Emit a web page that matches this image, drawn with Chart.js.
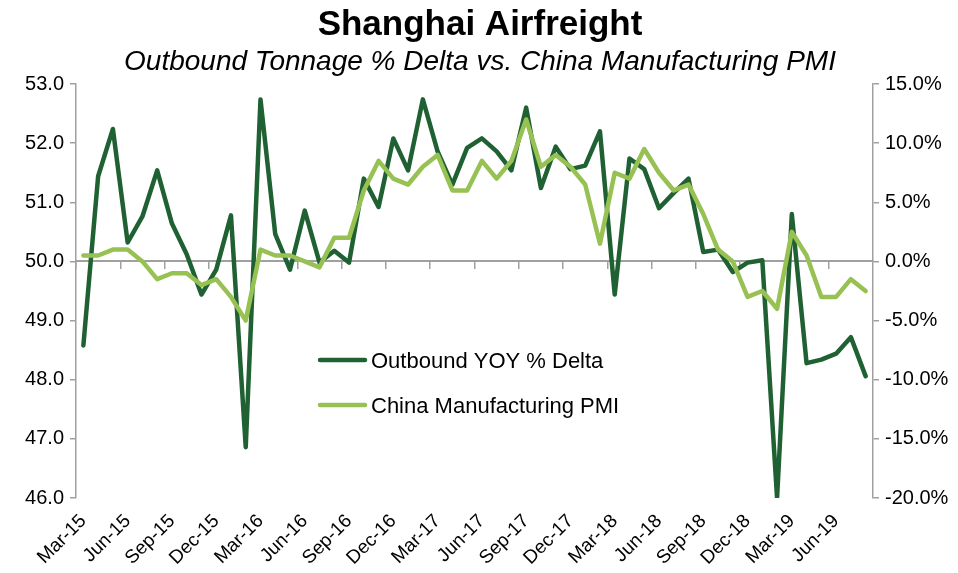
<!DOCTYPE html>
<html>
<head>
<meta charset="utf-8">
<script src="https://cdn.jsdelivr.net/npm/chart.js@4.4.1/dist/chart.umd.min.js"></script>
<style>
html,body{margin:0;padding:0;background:#fff}
#wrap{width:958px;height:573px;position:relative}
</style>
</head>
<body>
<div id="wrap"><canvas id="c"></canvas></div>
<script>
/* Shanghai Airfreight - outbound tonnage vs PMI */
const months=['Mar-15','Apr-15','May-15','Jun-15','Jul-15','Aug-15','Sep-15','Oct-15','Nov-15','Dec-15',
 'Jan-16','Feb-16','Mar-16','Apr-16','May-16','Jun-16','Jul-16','Aug-16','Sep-16','Oct-16','Nov-16','Dec-16',
 'Jan-17','Feb-17','Mar-17','Apr-17','May-17','Jun-17','Jul-17','Aug-17','Sep-17','Oct-17','Nov-17','Dec-17',
 'Jan-18','Feb-18','Mar-18','Apr-18','May-18','Jun-18','Jul-18','Aug-18','Sep-18','Oct-18','Nov-18','Dec-18',
 'Jan-19','Feb-19','Mar-19','Apr-19','May-19','Jun-19','Jul-19','Aug-19'];
// outbound YOY % delta (right axis)
const outbound=[-7.1,7.2,11.2,1.6,3.8,7.7,3.2,0.6,-2.8,-0.7,
 3.9,-15.7,13.7,2.3,-0.7,4.3,-0.1,0.9,-0.1,7.0,4.6,10.4,
 7.7,13.7,9.3,6.5,9.6,10.4,9.3,7.7,13.0,6.2,9.7,7.8,
 8.1,11.0,-2.8,8.7,7.8,4.5,5.8,7.0,0.8,1.0,-0.9,-0.1,
 0.1,-20.0,4.0,-8.6,-8.3,-7.8,-6.4,-9.7];
// China manufacturing PMI (left axis)
const pmi=[50.1,50.1,50.2,50.2,50.0,49.7,49.8,49.8,49.6,49.7,
 49.4,49.0,50.2,50.1,50.1,50.0,49.9,50.4,50.4,51.2,51.7,51.4,
 51.3,51.6,51.8,51.2,51.2,51.7,51.4,51.7,52.4,51.6,51.8,51.6,
 51.3,50.3,51.5,51.4,51.9,51.5,51.2,51.3,50.8,50.2,50.0,49.4,
 49.5,49.2,50.5,50.1,49.4,49.4,49.7,49.5];
const leftTicks=[46,47,48,49,50,51,52,53];
const rightTicks=[-20,-15,-10,-5,0,5,10,15];
const names=['Outbound YOY % Delta','China Manufacturing PMI'];
const TITLE='Shanghai Airfreight',SUB='Outbound Tonnage % Delta vs. China Manufacturing PMI';

const F='"Liberation Sans", Arial, sans-serif';
const DK='#1f6132',LT='#97c153',AX='#a0a0a0';

const deco={id:'deco',afterDraw:function(c){
 var x=c.ctx;x.save();
 x.fillStyle='#000';x.textAlign='center';x.textBaseline='alphabetic';
 x.font='bold 35px '+F;x.fillText(TITLE,480,35);
 x.font='italic 28px '+F;x.fillText(SUB,480,70);
 var cl=[DK,LT],ly=[360,405];
 x.lineCap='round';x.lineWidth=4.5;x.textAlign='left';x.font='22px '+F;
 for(var i=0;i<2;i++){
  x.strokeStyle=cl[i];x.beginPath();x.moveTo(320,ly[i]);x.lineTo(365,ly[i]);x.stroke();
  x.fillStyle='#000';x.fillText(names[i],371,ly[i]+8);
 }
 x.restore();
}};

new Chart(document.getElementById('c'),{
 type:'line',
 data:{labels:months,datasets:[
  {label:names[0],data:outbound,yAxisID:'y2',borderColor:DK,borderWidth:4.5,pointRadius:0,
   tension:0,borderJoinStyle:'round',borderCapStyle:'round',order:1},
  {label:names[1],data:pmi,yAxisID:'y',borderColor:LT,borderWidth:4.5,pointRadius:0,
   tension:0,borderJoinStyle:'round',borderCapStyle:'round',order:0}
 ]},
 options:{responsive:true,maintainAspectRatio:false,animation:false,
  layout:{padding:{top:84,left:0,right:0,bottom:0}},
  plugins:{legend:{display:false},tooltip:{enabled:false}},
  scales:{
   x:{type:'category',position:'bottom',offset:true,
    grid:{display:false,offset:true},border:{display:false},
    ticks:{autoSkip:false,minRotation:45,maxRotation:45,padding:4,color:'#000',font:{family:F,size:19},
     callback:function(v,i){return i%3===0?months[i]:''}},
    afterFit:function(s){s.height=75}},
   x2:{type:'category',axis:'x',position:{y:50},offset:true,
    grid:{offset:true,drawOnChartArea:false,drawTicks:true,tickLength:7,lineWidth:1.5,
     color:function(ctx){return ctx.index%3===0?AX:'rgba(0,0,0,0)'}},
    border:{display:true,color:AX,width:2},
    ticks:{display:false,autoSkip:false}},
   y:{position:'left',min:46,max:53,afterBuildTicks:function(s){s.ticks=leftTicks.map(function(v){return{value:v}})},
    grid:{drawOnChartArea:false,tickLength:6,color:AX,lineWidth:1.5},border:{color:AX,width:1.5},
    ticks:{padding:6,color:'#000',font:{family:F,size:20},callback:function(v){return v.toFixed(1)}},
    afterFit:function(s){s.width=76}},
   y2:{position:'right',min:-20,max:15,afterBuildTicks:function(s){s.ticks=rightTicks.map(function(v){return{value:v}})},
    grid:{drawOnChartArea:false,tickLength:6,color:AX,lineWidth:1.5},border:{color:AX,width:1.5},
    ticks:{padding:6,color:'#000',font:{family:F,size:20},callback:function(v){return v.toFixed(1)+'%'}},
    afterFit:function(s){s.width=85}}
  }},
 plugins:[deco]
});
</script>
</body>
</html>
